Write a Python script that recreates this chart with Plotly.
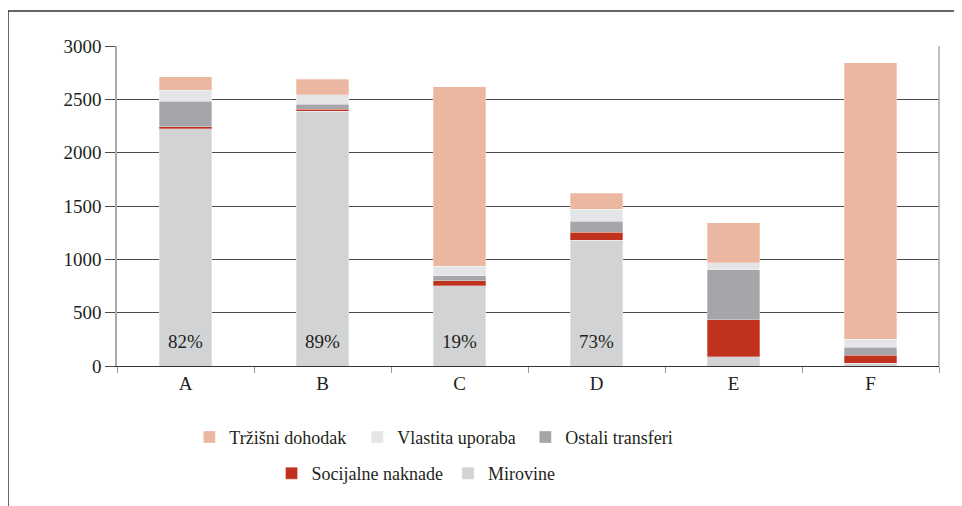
import plotly.graph_objects as go

categories = ["A", "B", "C", "D", "E", "F"]
mirovine = [2225, 2390, 753, 1178, 88, 28]
socijalne = [16, 16, 47, 75, 346, 75]
ostali = [243, 47, 44, 106, 469, 75]
vlastita = [103, 91, 93, 110, 63, 75]
trzisni = [125, 146, 1682, 150, 378, 2591]
pct_labels = ["82%", "89%", "19%", "73%", "", ""]
y_ticks = [0, 500, 1000, 1500, 2000, 2500, 3000]

FONT = "Liberation Serif, DejaVu Serif, serif"
TXT = "#231f20"

series = [
    ("Mirovine", mirovine, "#d2d3d5", "legend2"),
    ("Socijalne naknade", socijalne, "#c0311e", "legend2"),
    ("Ostali transferi", ostali, "#a5a6aa", "legend"),
    ("Vlastita uporaba", vlastita, "#e4e5e7", "legend"),
    ("Tržišni dohodak", trzisni, "#ebb7a0", "legend"),
]

fig = go.Figure()
for name, vals, col, leg in series:
    fig.add_trace(go.Bar(
        x=categories, y=vals, name=name, legend=leg,
        marker=dict(color=col, line=dict(color="rgba(255,255,255,0.6)", width=0.5)),
    ))

for c, t in zip(categories, pct_labels):
    if t:
        fig.add_annotation(x=c, y=234, text=t, showarrow=False,
                           font=dict(family=FONT, size=19, color=TXT))

# outer frame (cut by the page at right and bottom)
fig.add_shape(type="line", xref="paper", yref="paper", x0=-0.1326, x1=1.05, y0=1.109, y1=1.109,
              line=dict(color="#333333", width=1.5))
fig.add_shape(type="line", xref="paper", yref="paper", x0=-0.1326, x1=-0.1326, y0=1.109, y1=-0.48,
              line=dict(color="#333333", width=1.5))

fig.update_layout(
    width=962, height=506,
    margin=dict(l=109, r=31, t=38, b=148),
    paper_bgcolor="white", plot_bgcolor="white",
    barmode="stack", bargap=0.615,
    font=dict(family=FONT, size=17, color=TXT),
    showlegend=True,
    legend=dict(orientation="h", x=0.088, xanchor="left", y=-0.165, yanchor="top",
                traceorder="reversed", font=dict(family=FONT, size=18, color=TXT),
                itemwidth=30, entrywidth=123, bgcolor="rgba(0,0,0,0)"),
    legend2=dict(orientation="h", x=0.188, xanchor="left", y=-0.278, yanchor="top",
                 traceorder="reversed", font=dict(family=FONT, size=18, color=TXT),
                 itemwidth=30, bgcolor="rgba(0,0,0,0)"),
    xaxis=dict(type="category", showgrid=False, showline=True, linecolor="#333333", linewidth=1,
               ticks="outside", tickson="boundaries", ticklen=6, tickcolor="#999999",
               tickfont=dict(family=FONT, size=19, color=TXT), mirror=False),
    yaxis=dict(range=[0, 3000], tickvals=y_ticks, showgrid=True, gridcolor="#4a4a4a", gridwidth=1,
               showline=True, linecolor="#aaaaaa", linewidth=1.5,
               ticks="outside", ticklen=10, tickcolor="#4a4a4a",
               tickfont=dict(family=FONT, size=19, color=TXT), zeroline=False),
)
# right border of plot area
fig.add_shape(type="line", xref="paper", yref="paper", x0=1, x1=1, y0=0, y1=1,
              line=dict(color="#aaaaaa", width=1.5))

fig.write_html("out.html")
